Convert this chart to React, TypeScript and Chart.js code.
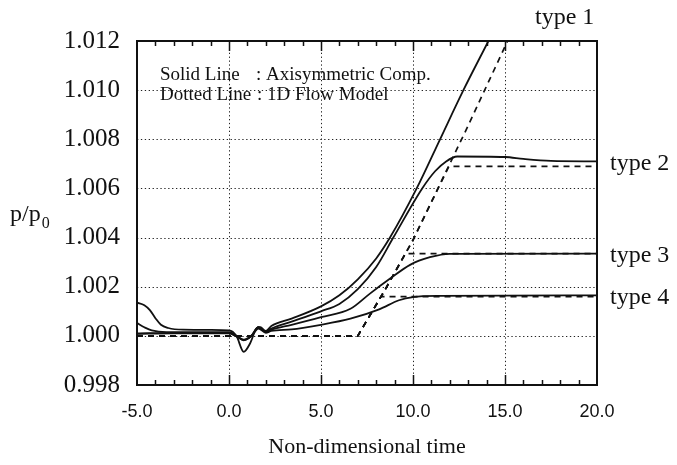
import React, { useEffect, useRef } from "react";
import { Chart, registerables } from "chart.js";

Chart.register(...registerables);

// ---- axis ranges / ticks ----
const xMin = -5;
const xMax = 20;
const yMin = 0.998;
const yMax = 1.012;
const xGridValues = [0, 5, 10, 15];
const yGridValues = [1.0, 1.002, 1.004, 1.006, 1.008, 1.01];

// ---- Axisymmetric computation (solid lines) ----
const type1X = [-5.0, -4.6, -4.3, -4.0, -3.7, -3.3, -2.5, -1.0, 0.0, 0.4, 0.8, 1.15, 1.5, 1.7, 2.0, 2.3, 3.4, 5.0, 6.0, 7.0, 8.0, 8.75, 10.2, 11.47, 12.74, 14.1];
const type1Y = [1.00135, 1.00125, 1.00105, 1.00072, 1.00045, 1.00032, 1.00025, 1.00024, 1.00022, 1.0, 0.99935, 0.9997, 1.0003, 1.00035, 1.0002, 1.0004, 1.0007, 1.0012, 1.00165, 1.0023, 1.00315, 1.004, 1.006, 1.008, 1.01, 1.012];

const type2X = [-5.0, -4.6, -4.2, -3.4, -1.0, 0.0, 0.4, 0.8, 1.2, 1.6, 2.0, 2.3, 3.4, 5.0, 6.0, 7.0, 8.0, 8.93, 10.5, 11.2, 11.8, 12.4, 15.0, 16.0, 17.5, 20.0];
const type2Y = [1.00052, 1.00035, 1.00022, 1.00015, 1.00015, 1.00015, 1.0, 0.99983, 0.99998, 1.00035, 1.00018, 1.0003, 1.00058, 1.001, 1.0013, 1.0019, 1.0028, 1.004, 1.006, 1.0067, 1.0071, 1.0073, 1.00728, 1.0072, 1.00712, 1.0071];

const type3X = [-5.0, -3.0, 0.0, 0.4, 0.8, 1.2, 1.6, 2.0, 2.3, 3.4, 5.0, 6.6, 7.66, 8.74, 9.84, 10.92, 12.0, 20.0];
const type3Y = [1.0001, 1.00012, 1.00012, 0.99999, 0.99985, 1.0, 1.00035, 1.00015, 1.00025, 1.00045, 1.00076, 1.0011, 1.00172, 1.00232, 1.00289, 1.0032, 1.00334, 1.00335];

const type4X = [-5.0, -3.0, 0.0, 0.4, 0.8, 1.2, 1.6, 2.0, 2.3, 3.4, 5.0, 6.6, 8.16, 9.24, 10.0, 11.45, 20.0];
const type4Y = [1.00008, 1.0001, 1.0001, 0.99998, 0.99982, 0.99998, 1.0003, 1.00012, 1.0002, 1.00026, 1.00045, 1.0007, 1.00108, 1.00145, 1.00158, 1.00163, 1.00165];

// ---- 1D flow model (dashed lines) ----
const model1X = [-5.0, 7.0, 8.5, 10.0, 12.9, 15.2];
const model1Y = [1.0, 1.0, 1.0019, 1.0039, 1.0084, 1.0121];
const model2X = [-5.0, 7.0, 8.5, 10.0, 11.95, 20.0];
const model2Y = [1.0, 1.0, 1.0019, 1.0039, 1.0069, 1.0069];
const model3X = [-5.0, 7.0, 8.5, 9.59, 20.0];
const model3Y = [1.0, 1.0, 1.0019, 1.00335, 1.00335];
const model4X = [-5.0, 7.0, 8.26, 20.0];
const model4Y = [1.0, 1.0, 1.0016, 1.0016];

const typeLabels = ["type 1", "type 2", "type 3", "type 4"];

const SERIF = "'Liberation Serif', 'Times New Roman', serif";
const SANS = "'Liberation Sans', Arial, sans-serif";

function zip(xs: number[], ys: number[]) {
  return xs.map((x, i) => ({ x, y: ys[i] }));
}

const decorPlugin = {
  id: "decor",
  beforeDatasetsDraw(chart: any) {
    const { ctx, chartArea: a, scales } = chart;
    const xs = scales.x;
    const ys = scales.y;
    ctx.save();
    ctx.strokeStyle = "#222";
    ctx.lineWidth = 1;
    ctx.setLineDash([1.3, 2.6]);
    for (const v of xGridValues) {
      const px = Math.round(xs.getPixelForValue(v)) + 0.5;
      ctx.beginPath();
      ctx.moveTo(px, a.top);
      ctx.lineTo(px, a.bottom);
      ctx.stroke();
    }
    for (const v of yGridValues) {
      const py = Math.round(ys.getPixelForValue(v)) + 0.5;
      ctx.beginPath();
      ctx.moveTo(a.left, py);
      ctx.lineTo(a.right, py);
      ctx.stroke();
    }
    ctx.setLineDash([]);
    ctx.lineWidth = 1.5;
    ctx.strokeStyle = "#111";
    for (let v = xMin + 1; v < xMax; v += 1) {
      const px = Math.round(xs.getPixelForValue(v)) + 0.5;
      const len = v % 5 === 0 ? 10 : 5;
      ctx.beginPath();
      ctx.moveTo(px, a.bottom);
      ctx.lineTo(px, a.bottom - len);
      ctx.moveTo(px, a.top);
      ctx.lineTo(px, a.top + len);
      ctx.stroke();
    }
    ctx.restore();
  },
  afterDatasetsDraw(chart: any) {
    const { ctx, chartArea: a } = chart;
    ctx.save();
    ctx.strokeStyle = "#111";
    ctx.lineWidth = 2;
    ctx.strokeRect(a.left, a.top, a.right - a.left, a.bottom - a.top);
    ctx.restore();
  },
  afterDraw(chart: any) {
    const { ctx, chartArea: a, scales } = chart;
    const ys = scales.y;
    ctx.save();
    ctx.fillStyle = "#111";
    ctx.textBaseline = "middle";
    ctx.textAlign = "left";
    // series labels
    ctx.font = `24px ${SERIF}`;
    ctx.fillText(typeLabels[0], a.right - 62, a.top - 23);
    const ends = [type2Y[type2Y.length - 1], type3Y[type3Y.length - 1], type4Y[type4Y.length - 1]];
    ends.forEach((v, i) => {
      ctx.fillText(typeLabels[i + 1], a.right + 13, ys.getPixelForValue(v) + 2);
    });
    // in-plot legend text
    ctx.font = `19px ${SERIF}`;
    ctx.fillText("Solid Line", a.left + 23, a.top + 34);
    ctx.fillText(": Axisymmetric Comp.", a.left + 119, a.top + 34);
    ctx.fillText("Dotted Line", a.left + 23, a.top + 54);
    ctx.fillText(": 1D Flow Model", a.left + 120, a.top + 54);
    // y-axis title p/p0
    ctx.textBaseline = "alphabetic";
    ctx.font = `24px ${SERIF}`;
    const base = ys.getPixelForValue(1.005) + 8;
    ctx.fillText("p/p", 10, base);
    const w = ctx.measureText("p/p").width;
    ctx.font = `16px ${SERIF}`;
    ctx.fillText("0", 10 + w + 1, base + 7);
    ctx.restore();
  },
};

export default function App() {
  const ref = useRef<HTMLCanvasElement | null>(null);
  useEffect(() => {
    if (!ref.current) return;
    const solid = (xs: number[], ysArr: number[]) => ({
      data: zip(xs, ysArr),
      borderColor: "#111",
      borderWidth: 1.8,
      pointRadius: 0,
      fill: false,
      cubicInterpolationMode: "monotone" as const,
    });
    const dashed = (xs: number[], ysArr: number[]) => ({
      data: zip(xs, ysArr),
      borderColor: "#111",
      borderWidth: 1.7,
      borderDash: [6, 5],
      pointRadius: 0,
      fill: false,
      tension: 0,
    });
    const chart = new Chart(ref.current, {
      type: "line",
      data: {
        datasets: [
          dashed(model1X, model1Y),
          dashed(model2X, model2Y),
          dashed(model3X, model3Y),
          dashed(model4X, model4Y),
          solid(type1X, type1Y),
          solid(type2X, type2Y),
          solid(type3X, type3Y),
          solid(type4X, type4Y),
        ],
      },
      options: {
        animation: false,
        responsive: false,
        devicePixelRatio: 1,
        layout: { padding: { left: 0, right: 80, top: 41, bottom: 0 } },
        plugins: { legend: { display: false }, tooltip: { enabled: false } },
        scales: {
          x: {
            type: "linear",
            min: xMin,
            max: xMax,
            grid: { display: false, drawTicks: false },
            border: { display: false },
            ticks: {
              stepSize: 5,
              color: "#111",
              padding: 16,
              font: { family: SANS, size: 18 },
              callback: (v: any) => Number(v).toFixed(1),
            },
            title: {
              display: true,
              text: "Non-dimensional time",
              color: "#111",
              font: { family: SERIF, size: 22 },
              padding: { top: 0, bottom: 5 },
            },
            afterFit: (s: any) => {
              s.height = 80;
            },
          },
          y: {
            type: "linear",
            min: yMin,
            max: yMax,
            grid: { display: false, drawTicks: false },
            border: { display: false },
            ticks: {
              stepSize: 0.002,
              color: "#111",
              padding: 17,
              font: { family: SERIF, size: 25 },
              callback: (v: any) => Number(v).toFixed(3),
            },
            afterFit: (s: any) => {
              s.width = 137;
            },
          },
        },
      },
      plugins: [decorPlugin],
    } as any);
    return () => chart.destroy();
  }, []);
  return (
    <div style={{ position: "absolute", left: 0, top: 0, width: 677, height: 465, background: "#fff" }}>
      <canvas ref={ref} width={677} height={465} />
    </div>
  );
}
